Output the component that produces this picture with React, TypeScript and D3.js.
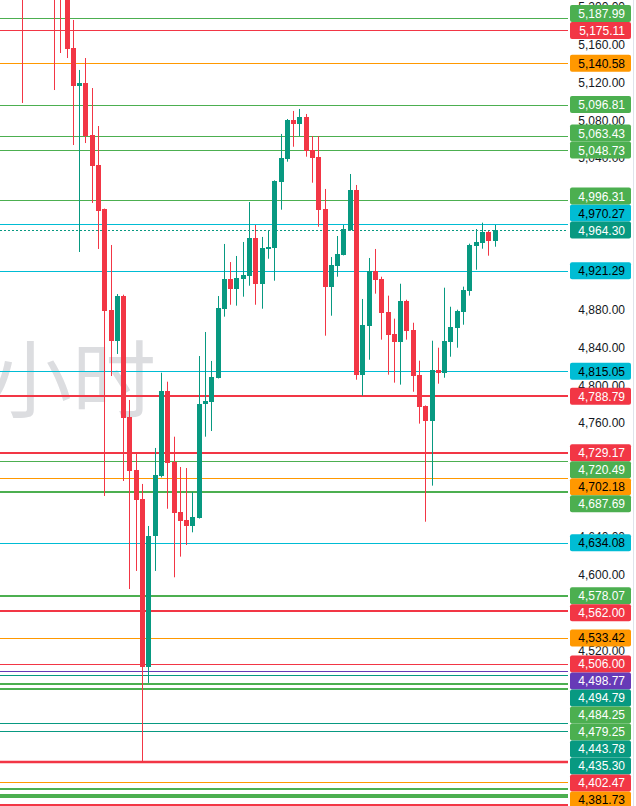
import React from "react";
import * as d3 from "d3";

// ---- Data ----
const startIndex = -7;
const opens = [5262,5228,5222,5230,5240,5234,5226,5219,5156.6,5116.5,5119.6,5064.7,5033.0,4986.5,4879.8,4847.4,4894.6,4767.1,4710.8,4680.2,4502.7,4640.9,4704.5,4794.3,4719.6,4666.5,4658.4,4652.0,4660.4,4780.5,4783.0,4808.4,4881.2,4912.6,4902.3,4912.9,4916.1,4955.9,4907.6,4944.6,4945.7,5015.4,5039.7,5080.5,5076.6,5083.7,5048.9,5041.5,4986.5,4904.5,4926.3,4938.3,4964.3,5006.6,4811.5,4863.3,4921.0,4912.9,4878.1,4854.8,4846.4,4889.7,4859.0,4811.5,4778.8,4763.0,4816.8,4813.6,4846.4,4861.2,4878.1,4900.2,4947.8,4951.0,4962.2,4953.0];
const highs = [5270,5245,5236,5248,5252,5244,5238,5225,5186.2,5133.4,5146.0,5114.3,5074.2,4987.0,4948.5,4896.7,4896.0,4784.8,4729.1,4696.1,4651.7,4734.1,4813.6,4804.1,4746.0,4714.0,4712.9,4687.6,4831.2,4856.6,4826.0,4894.6,4949.6,4930.5,4936.9,4951.7,4993.9,4969.6,4957.0,4964.3,5016.8,5065.8,5081.6,5090.1,5092.2,5086.9,5063.6,5063.6,5007.7,4935.8,4958.0,4969.6,5023.5,5011.9,4891.5,4934.8,4944.3,4915.0,4895.0,4870.7,4907.6,4890.7,4866.4,4826.3,4779.0,4847.4,4840.0,4903.4,4883.3,4880.2,4904.5,4949.9,4965.4,4972.1,4963.3,4969.6];
const lows = [5098.5,5215,5212,5218,5225,5112.2,5151.3,5146.0,5054.1,4941.1,5056.2,4992.9,4944.3,4683.4,4810.1,4833.4,4699.2,4585.1,4604.2,4402.47,4485.9,4604.2,4703.0,4669.9,4597.5,4619.3,4631.6,4645.0,4659.5,4746.0,4752.0,4807.5,4872.8,4885.4,4884.4,4893.9,4905.5,4885.4,4881.2,4934.0,4910.8,4985.8,5036.5,5052.3,5063.6,5041.8,5014.3,4967.8,4852.7,4873.8,4915.0,4937.5,4963.5,4806.2,4789.3,4827.3,4897.1,4848.5,4811.5,4803.1,4801.0,4848.5,4793.5,4759.8,4656.2,4694.3,4802.0,4808.3,4830.5,4840.0,4864.3,4895.0,4922.4,4944.6,4937.2,4946.7];
const closes = [5228,5222,5230,5240,5234,5226,5219,5155.5,5116.5,5119.6,5063.6,5031.9,4984.4,4878.8,4847.4,4894.6,4765.8,4710.0,4679.5,4502.7,4640.9,4705.6,4794.3,4718.6,4665.7,4657.3,4652.0,4661.2,4780.5,4783.7,4809.1,4882.0,4912.6,4902.3,4913.7,4916.8,4955.9,4907.6,4945.3,4946.7,5016.1,5040.4,5080.5,5076.6,5083.7,5048.1,5040.7,4985.8,4904.5,4927.4,4939.0,4965.4,5006.6,4811.5,4864.0,4921.0,4911.9,4877.0,4853.8,4846.4,4889.7,4858.0,4810.4,4777.7,4763.0,4816.8,4813.6,4847.4,4862.2,4879.2,4901.3,4948.8,4952.0,4962.2,4953.0,4964.3];

const currentPrice = 4964.3;

const levelValues = [5187.99,5175.11,5140.58,5096.81,5063.43,5048.73,4996.31,4970.27,4921.29,4815.05,4788.79,4729.17,4720.49,4702.18,4687.69,4634.08,4578.07,4562.0,4533.42,4506.0,4498.77,4494.79,4484.25,4479.25,4443.78,4435.3,4402.47,4381.73,4374.2,4367.9,4365.1,4357.0];
const levelKinds = ["green","red","orange","green","green","green","green","cyan","cyan","cyan","red","red","green","orange","green","cyan","green","red","orange","red","purple","teal","green","green","teal","teal","red","orange","green","green","green","red"];
const levelWeights = [1,1,1,1,1,1,1,1,1,1,2,2,1,1,2,1,2,2,1,1,1,1,2,2,1,1,2.5,1,2,2,2,2];

const axisTicks = d3.range(4360, 5201, 40);
const watermark = "小时";

// ---- Styles ----
const W = 636, H = 806;
const plotRight = 568;
const palette: Record<string, { fill: string; text: string }> = {
  green: { fill: "#4caf50", text: "#ffffff" },
  red: { fill: "#f23645", text: "#ffffff" },
  orange: { fill: "#ff9800", text: "#000000" },
  cyan: { fill: "#00bcd4", text: "#000000" },
  teal: { fill: "#089981", text: "#ffffff" },
  purple: { fill: "#673ab7", text: "#ffffff" },
};
const UP = "#089981", DOWN = "#f23645";
const FONT = "'Liberation Sans', Arial, sans-serif";
const labelH = 17;

export default function App() {
  const y = d3.scaleLinear().domain([4355.9, 5207.3]).range([H, 0]);
  const x = d3.scaleLinear().domain([0, 68]).range([66.5, 494.5]);
  const bodyW = 5;

  const candles = opens.map((o, i) => ({
    k: i + startIndex, o, h: highs[i], l: lows[i], c: closes[i],
  }));

  // label layout: above current pushes upward, below pushes downward
  const curY = y(currentPrice);
  const labels: { v: number; kind: string; pos: number }[] = [];
  const above = levelValues.map((v, i) => ({ v, kind: levelKinds[i] })).filter(d => d.v > currentPrice).sort((a, b) => a.v - b.v);
  const below = levelValues.map((v, i) => ({ v, kind: levelKinds[i] })).filter(d => d.v < currentPrice).sort((a, b) => b.v - a.v);
  let prev = curY;
  above.forEach(d => { const p = Math.min(y(d.v), prev - labelH); labels.push({ ...d, pos: p }); prev = p; });
  prev = curY;
  below.forEach(d => { const p = Math.max(y(d.v), prev + labelH); labels.push({ ...d, pos: p }); prev = p; });
  labels.push({ v: currentPrice, kind: "teal", pos: curY });
  const visibleLabels = labels.filter(l => l.pos - labelH / 2 < H && l.pos + labelH / 2 > 0);

  const covered = (yy: number) => visibleLabels.some(l => Math.abs(l.pos - yy) <= labelH / 2);
  const shownTicks = axisTicks.filter(t => {
    const ty = y(t);
    return ty > 0 && ty < H - 6 && !(covered(ty - 4) && covered(ty + 4));
  });

  const fmt = d3.format(",.2f");
  const crisp = (v: number) => Math.round(v) + 0.5;

  return (
    <svg width={W} height={H} style={{ position: "absolute", left: 0, top: 0, background: "#fff" }} fontFamily={FONT}>
      <rect x={0} y={0} width={W} height={H} fill="#ffffff" />
      {/* watermark */}
      <text x={-12} y={411} fontSize={84} fill="#dcdde0" fontFamily="'Noto Sans CJK SC', sans-serif">{watermark}</text>

      {/* level lines */}
      {levelValues.map((v, i) => {
        const w = levelWeights[i];
        const yy = w % 2 === 1 ? crisp(y(v)) : Math.round(y(v));
        return <line key={"l" + i} x1={0} x2={plotRight} y1={yy} y2={yy} stroke={palette[levelKinds[i]].fill} strokeWidth={w} />;
      })}
      {/* current price dotted line */}
      <line x1={0} x2={plotRight} y1={crisp(curY)} y2={crisp(curY)} stroke={UP} strokeWidth={1} strokeDasharray="2,2" />

      {/* candles */}
      {candles.map(d => {
        const cx = Math.round(x(d.k));
        const col = d.c >= d.o ? UP : DOWN;
        const top = Math.round(y(Math.max(d.o, d.c)));
        const bot = Math.round(y(Math.min(d.o, d.c)));
        return (
          <g key={"c" + d.k}>
            <line x1={cx + 0.5} x2={cx + 0.5} y1={y(d.h)} y2={y(d.l)} stroke={col} strokeWidth={1} />
            <rect x={cx - 2} y={top} width={bodyW} height={Math.max(1, bot - top)} fill={col} />
          </g>
        );
      })}

      {/* axis background */}
      <rect x={plotRight} y={0} width={W - plotRight} height={H} fill="#ffffff" />
      <line x1={633.5} x2={633.5} y1={0} y2={H} stroke="#e0e3eb" />
      {shownTicks.map(t => (
        <text key={"t" + t} x={625} y={y(t)} textAnchor="end" dominantBaseline="central" fontSize={12} fill="#131722">{fmt(t)}</text>
      ))}

      {/* level labels */}
      {visibleLabels.map((d, i) => (
        <g key={"lb" + i}>
          <rect x={570} y={d.pos - labelH / 2} width={61} height={labelH} rx={2} fill={palette[d.kind].fill} />
          <text x={625} y={d.pos + 0.5} textAnchor="end" dominantBaseline="central" fontSize={12} fill={palette[d.kind].text}>{fmt(d.v)}</text>
        </g>
      ))}
    </svg>
  );
}
